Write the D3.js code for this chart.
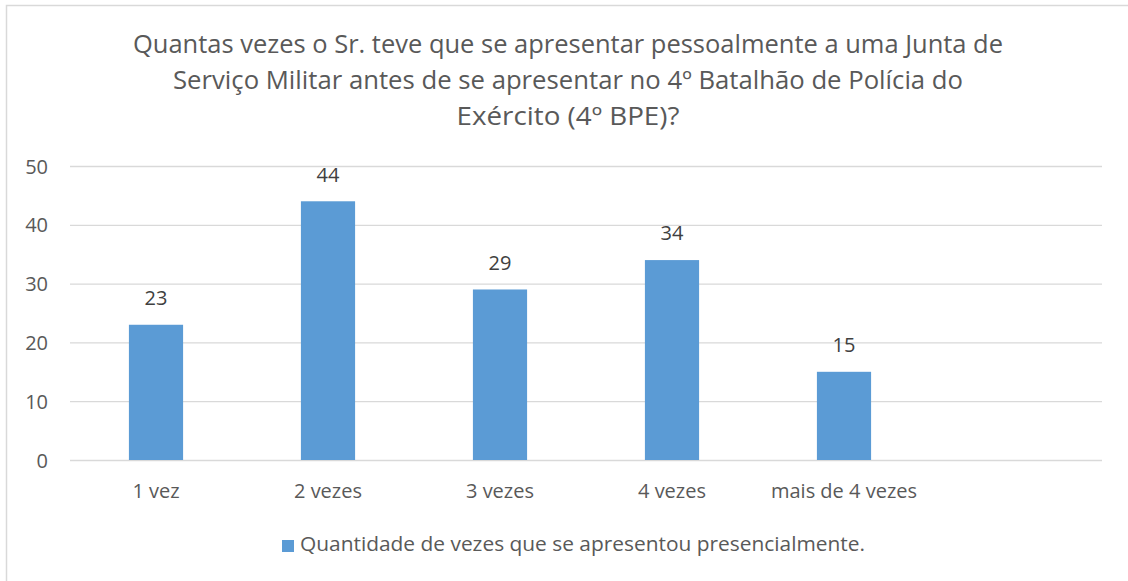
<!DOCTYPE html>
<html><head><meta charset="utf-8">
<script src="https://cdn.jsdelivr.net/npm/d3@7"></script>
<style>body{margin:0;background:#fff;}svg{display:block;font-family:"Open Sans",sans-serif;}</style>
</head><body><svg id="c" width="1128" height="581"></svg>
<script>
const titleLines = ["Quantas vezes o Sr. teve que se apresentar pessoalmente a uma Junta de",
  "Serviço Militar antes de se apresentar no 4º Batalhão de Polícia do",
  "Exército (4º BPE)?"];
const categories = ["1 vez","2 vezes","3 vezes","4 vezes","mais de 4 vezes",""];
const values = [23,44,29,34,15,null];
const yTicks = [0,10,20,30,40,50];
const seriesName = "Quantidade de vezes que se apresentou presencialmente.";

const FONT = "'Open Sans',sans-serif";
const svg = d3.select("#c");
svg.append("rect").attr("x",6.5).attr("y",5.5).attr("width",1200).attr("height",700)
  .attr("fill","#fff").attr("stroke","#D9D9D9").attr("stroke-width",1.5);

const x = d3.scaleBand().domain(categories).range([70,1102]).paddingInner(0.685).paddingOuter(0.3425);
const y = d3.scaleLinear().domain([0,50]).range([460,166]);

const titleW = [870,790,223];
const titleY = [46,82,118];
titleLines.forEach((t,i)=>{
  svg.append("text").attr("x",568).attr("y",titleY[i]).attr("text-anchor","middle")
    .attr("dominant-baseline","middle").attr("font-size",25).attr("fill","#595959")
    .attr("textLength",titleW[i]).attr("lengthAdjust","spacingAndGlyphs").text(t);
});

// grid
svg.append("g").selectAll("line").data(yTicks).join("line")
  .attr("x1",70).attr("x2",1102).attr("y1",d=>y(d)+0.5).attr("y2",d=>y(d)+0.5)
  .attr("stroke","#D9D9D9").attr("stroke-width",1.3);

// y axis
const ya = svg.append("g").attr("transform","translate(48,0)")
  .call(d3.axisLeft(y).tickValues(yTicks).tickSize(0).tickPadding(0));
ya.select(".domain").remove();
ya.selectAll("text").attr("font-size",20).attr("fill","#595959").attr("font-family",FONT).attr("dy","0.35em");

// bars
const data = categories.map((c,i)=>({c,v:values[i]})).filter(d=>d.v!=null);
svg.selectAll("rect.bar").data(data).join("rect").attr("class","bar")
  .attr("x",d=>x(d.c)).attr("width",x.bandwidth())
  .attr("y",d=>y(d.v)).attr("height",d=>y(0)-y(d.v)).attr("fill","#5B9BD5");

svg.selectAll("text.lbl").data(data).join("text").attr("class","lbl")
  .attr("x",d=>x(d.c)+x.bandwidth()/2).attr("y",d=>y(d.v)-25)
  .attr("text-anchor","middle").attr("dominant-baseline","middle")
  .attr("font-size",20).attr("fill","#404040").text(d=>d.v);

// x axis
const xa = svg.append("g").attr("transform","translate(0,491)")
  .call(d3.axisBottom(x).tickSize(0).tickPadding(0));
xa.select(".domain").remove();
xa.selectAll("text").attr("font-size",20).attr("fill","#595959").attr("font-family",FONT).attr("dy","0.35em");

// legend
svg.append("rect").attr("x",282).attr("y",540).attr("width",12).attr("height",12).attr("fill","#5B9BD5");
svg.append("text").attr("x",300).attr("y",546).attr("dominant-baseline","middle")
  .attr("font-size",20).attr("fill","#595959")
  .attr("textLength",565).attr("lengthAdjust","spacingAndGlyphs").text(seriesName);
</script></body></html>
